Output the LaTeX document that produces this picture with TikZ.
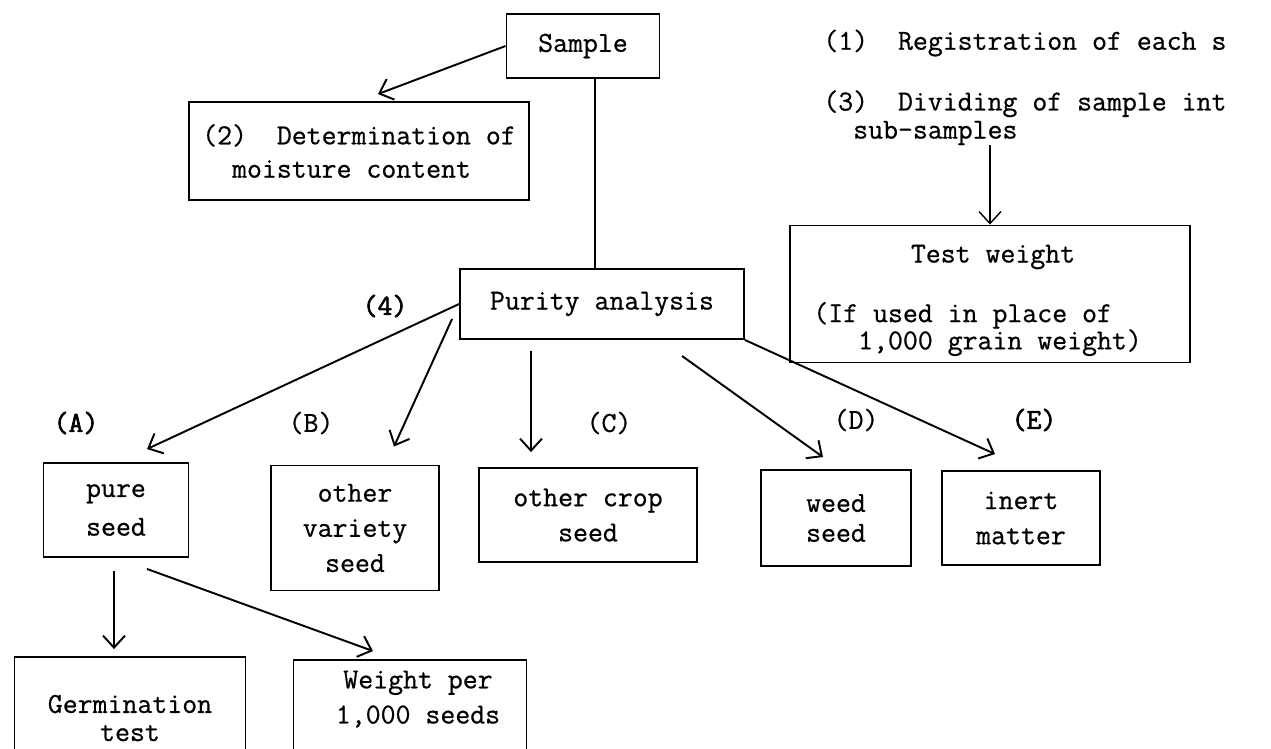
\documentclass[tikz,border=0pt]{standalone}
\usepackage{fontspec}
\newfontfamily\twfont{Latin Modern Mono}[
  UprightFeatures={FakeBold=0.7},
  BoldFont={Latin Modern Mono},
  BoldFeatures={FakeBold=2.2}]
\usepackage{tikz}
\usetikzlibrary{arrows.meta,positioning,calc}
\newcommand{\tw}{\twfont\fontsize{16.5}{20}\selectfont}

\begin{document}
\begin{tikzpicture}[
      x=0.02cm,y=-0.02cm,
      box/.style={draw,line width=1.1pt,align=center,font=\tw,inner sep=0pt},
      txt/.style={font=\tw,inner sep=0pt,align=left},
      tag/.style={font=\tw},
      flow/.style={-{Straight Barb[length=2.4mm,width=4.4mm]},line width=1.1pt},
    ]
    \clip (0,0) rectangle (1271,748);

    % top row
    \node[box,minimum width=3.06cm,minimum height=1.28cm] (sample) at (583,46) {Sample};
    \node[box,align=left,minimum width=6.8cm,minimum height=1.96cm] (moist) at (359,151)
      {(2)\ \ Determination of\\[-1pt]\ \ moisture content};
    \node[txt,anchor=west] (reg) at (823,43) {(1)\ \ Registration of each s};
    \node[txt,anchor=north west] (div) at (823,90) {(3)\ \ Dividing of sample int\\[-4pt]\ \ sub-samples};

    \node[box,minimum width=8cm,minimum height=2.74cm] (testw) at (990,294) {};
    \node[txt] (testwhead) at (993,257) {Test weight};
    \node[txt,anchor=west] (testwnote) at (813,329) {(If used in place of\\[-4.5pt]\ \ \ 1,000 grain weight)};

    % purity analysis and its fractions
    \node[box,minimum width=5.68cm,minimum height=1.4cm] (purity) at (602,304) {Purity analysis};
    \node[tag,font=\tw\bfseries] (n4) at (385,306) {(4)};

    \node[tag,font=\tw\bfseries] (la) at (76,423) {(A)};
    \node[tag] (lb) at (311,423) {(B)};
    \node[tag] (lc) at (609,423) {(C)};
    \node[tag] (ld) at (856,420) {(D)};
    \node[tag,font=\tw\bfseries] (le) at (1034,420) {(E)};

    \node[box,minimum width=2.9cm,minimum height=1.88cm] (pure) at (116,510) {pure\\[2pt]seed};
    \node[box,minimum width=3.36cm,minimum height=2.5cm] (othvar) at (355,528) {other\\variety\\seed};
    \node[box,minimum width=4.36cm,minimum height=1.88cm] (othcrop) at (588,515) {other crop\\seed};
    \node[box,minimum width=3cm,minimum height=1.92cm] (weed) at (836,518) {weed\\[-3pt]seed};
    \node[box,minimum width=3.16cm,minimum height=1.88cm] (inert) at (1021,518) {inert\\matter};

    % tests on pure seed
    \node[box,minimum width=4.62cm,minimum height=2.44cm] (germ) at (130,718) {Germination\\[-4pt]test};
    \node[box,minimum width=4.66cm,minimum height=2.4cm] (wpk) at (410,720) {};
    \node[txt,align=center] (wpktxt) at ($(wpk.north)+(8,40)$) {Weight per\\1,000 seeds};

    \draw[flow] (sample.west) -- ($(moist.north)+(19,-7)$);
    \draw[line width=0.6pt] ($(sample.south)+(12,0)$) -- ($(purity.north)+(-7,0)$);
    \draw[flow,line width=0.8pt] (div.south -| testw.north) -- (testw.north);

    \draw[flow] (purity.west) -- ($(pure.north)+(31,-13)$);
    \draw[flow] ($(purity.south west)+(-7,-21)$) -- ($(othvar.north)+(39,-18)$);
    \draw[flow] ($(purity.south)+(-71,11)$) -- ($(othcrop.north)+(-57,-15)$);
    \draw[flow] ($(purity.south)+(80,16)$) -- ($(weed.north)+(-13,-12)$);
    \draw[flow] (purity.south east) -- ($(inert.north)+(-26,-16)$);

    \draw[flow] ($(pure.south)+(-2,13)$) -- ($(germ.north)+(-16,-7)$);
    \draw[flow] ($(pure.south)+(31,11)$) -- ($(wpk.north)+(-37,-8)$);
  \end{tikzpicture}
\end{document}
